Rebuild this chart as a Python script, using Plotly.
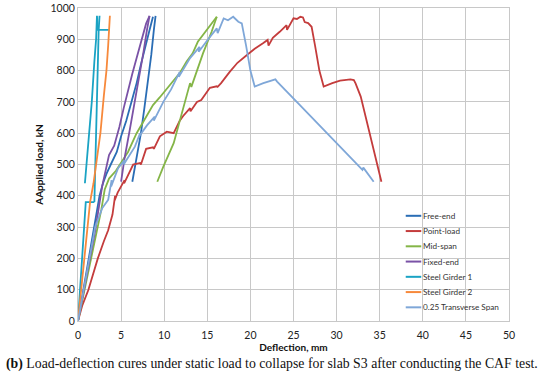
import plotly.graph_objects as go

# ---------------- data ----------------
free_x = [0, 0.8, 1.7, 2.5, 2.9, 3.3, 3.8, 4.5, 5.0, 5.6, 6.2, 6.8, 7.3, 7.8, 8.3, 8.7, None,
          6.3, 6.8, 7.3, 7.7, 8.1, 8.5, 8.8, 9.0]
free_y = [0, 130, 280, 400, 440, 470, 500, 540, 590, 640, 700, 760, 820, 880, 930, 972, None,
          445, 520, 600, 680, 760, 850, 930, 975]

point_x = [0, 0.5, 1.2, 2.3, 3.0, 3.5, 4.0, 4.3, 4.25, 4.6, 5.0, 5.4, 5.35, 5.8, 6.4, 7.2, 7.3, 7.9,
           8.7, 8.8, 9.5, 10.3, 11.0, 11.1, 11.8, 12.2, 13.0, 13.05, 13.8, 14.3, 15.3, 16.1, 16.2,
           16.6, 17.6, 18.5, 19.6, 20.5, 21.5, 22.0, 22.1, 22.6, 23.4, 24.2, 24.25, 25.0, 25.4,
           25.8, 26.1, 26.3, 26.7, 27.1, 27.5, 28.0, 28.5, 29.0, 29.5, 30.4, 31.0, 31.6, 32.0,
           32.2, 32.8, 33.5, 34.3, 35.2]
point_y = [0, 50, 99, 200, 255, 290, 340, 400, 385, 410, 430, 450, 440, 465, 500, 505, 500, 550,
           555, 550, 590, 605, 600, 600, 640, 655, 680, 670, 700, 706, 745, 750, 748,
           760, 796, 825, 850, 870, 888, 898, 880, 905, 924, 945, 930, 967, 965,
           972, 970, 955, 952, 940, 880, 800, 749, 755, 760, 768, 770, 772, 770,
           759, 717, 640, 550, 445]

mid_x = [0, 1.0, 2.0, 2.7, 3.1, 3.6, 4.4, 5.0, 5.8, 6.8, 7.8, 8.7, 9.5, 10.5, 11.8, 12.6, 13.3,
         13.9, 14.8, 15.7, 16.1, None,
         9.2, 9.9, 11.1, 11.9, 12.3, 13.0, 13.15, 13.6, 14.5, 15.5, 16.1]
mid_y = [0, 130, 270, 355, 420, 455, 480, 505, 540, 600, 650, 690, 715, 750, 792, 829, 855,
         892, 925, 961, 972, None,
         445, 493, 568, 650, 690, 760, 748, 786, 855, 924, 972]

fixed_x = [0, 1.0, 2.0, 2.8, 3.2, 3.6, 4.2, 4.8, 5.3, 5.8, 6.3, 6.8, 7.4, 7.9, 8.3, None,
           5.0, 5.4, 6.0, 6.6, 7.1, 7.6, 8.0, 8.3]
fixed_y = [0, 140, 290, 430, 480, 530, 560, 620, 680, 740, 790, 840, 900, 950, 975, None,
           445, 520, 610, 700, 780, 860, 930, 975]

sg1_x = [0, 0.4, 0.9, 1.9, None, 1.9, 2.0, 2.1, 2.2, 2.3, 2.4, 2.5, None,
         0.8, 1.2, 1.6, 1.9, 2.1, 2.2, 2.3, 3.7]
sg1_y = [0, 180, 380, 380, None, 380, 500, 620, 750, 850, 930, 975, None,
         440, 560, 700, 830, 900, 975, 930, 930]

sg2_x = [0, 0.7, 1.4, 1.8, 2.2, 2.6, 3.0, 3.3, 3.5, 3.7]
sg2_y = [0, 200, 380, 440, 520, 600, 720, 800, 880, 975]

trans_x = [0, 1.0, 2.0, 2.8, 3.5, 3.9, 3.85, 4.65, 5.4, 5.3, 6.0, 6.6, 7.2, 7.1, 8.0, 8.9, 8.8,
           9.9, 10.8, 11.8, 11.7, 12.4, 13.0, 14.1, 14.0, 15.1, 16.1, 16.2, 16.9, 17.4, 18.0,
           18.6, 19.0, 19.5, 20.0, 20.5, 21.5, 22.9, 23.1, 25.8, 28.0, 30.0, 32.0, 33.0, 33.1,
           34.3]
trans_y = [0, 150, 301, 360, 387, 450, 430, 488, 514, 500, 530, 557, 600, 590, 625, 653, 640,
           700, 740, 796, 780, 815, 840, 876, 860, 900, 935, 920, 967, 961, 972,
           956, 951, 880, 800, 749, 760, 772, 765, 688, 625, 568, 511, 483, 490,
           445]

series_names = ["Free-end", "Point-load", "Mid-span", "Fixed-end",
                "Steel Girder 1", "Steel Girder 2", "0.25 Transverse Span"]
series_colors = ["#2A6DB5", "#C43C3C", "#84B547", "#7A52A6", "#1AA3C4", "#F7893B", "#7FA7D8"]

x_ticks = [0, 5, 10, 15, 20, 25, 30, 35, 40, 45, 50]
y_ticks = [0, 100, 200, 300, 400, 500, 600, 700, 800, 900, 1000]

caption_bold = "(b)"
caption_rest = " Load-deflection cures under static load to collapse for slab S3 after conducting the CAF test."

# ---------------- figure ----------------
xs = [free_x, point_x, mid_x, fixed_x, sg1_x, sg2_x, trans_x]
ys = [free_y, point_y, mid_y, fixed_y, sg1_y, sg2_y, trans_y]

fig = go.Figure()
for name, col, x, y in zip(series_names, series_colors, xs, ys):
    fig.add_trace(go.Scatter(x=x, y=y, mode="lines", name=name, showlegend=False,
                             line=dict(color=col, width=1.8), connectgaps=False))

# compact legend (Excel style): short line sample + label
PLOT_L, PLOT_W, PLOT_B, PLOT_H = 78.3, 430.3, 321.0, 313.3
def px_to_paper(px, py):
    return (px - PLOT_L) / PLOT_W, (PLOT_B - py) / PLOT_H

for i, (name, col) in enumerate(zip(series_names, series_colors)):
    py = 215.7 + 15.27 * i
    x0, yy = px_to_paper(405.5, py)
    x1, _ = px_to_paper(421.0, py)
    fig.add_shape(type="line", xref="paper", yref="paper", x0=x0, x1=x1, y0=yy, y1=yy,
                  line=dict(color=col, width=2))
    fig.add_annotation(xref="paper", yref="paper", x=x1, y=yy, xanchor="left", yanchor="middle",
                       showarrow=False, text=name,
                       font=dict(family="Lato", size=8.2, color="#333"))

grid = "#C8C8C8"
tickfont = dict(family="Lato", size=10.5, color="#222")
fig.update_layout(
    width=550, height=378,
    margin=dict(l=78, r=41, t=8, b=57, autoexpand=False),
    paper_bgcolor="white", plot_bgcolor="white",
    showlegend=False,
    xaxis=dict(range=[0, 50], tickvals=x_ticks, showgrid=True, gridcolor=grid, gridwidth=1,
               zeroline=False, showline=True, linecolor=grid, mirror=True,
               tickfont=tickfont, ticks="", ticklabelstandoff=4,
               title=dict(text="<b>Deflection, mm</b>", font=dict(family="Lato", size=10, color="#111"),
                          standoff=2)),
    yaxis=dict(range=[0, 1000], tickvals=y_ticks, showgrid=True, gridcolor=grid, gridwidth=1,
               zeroline=False, showline=True, linecolor=grid, mirror=True,
               tickfont=tickfont, ticks="",
               title=dict(text="<b>AApplied load, kN</b>", font=dict(family="Lato", size=10, color="#111"),
                          standoff=5)),
)
fig.add_annotation(xref="paper", yref="paper", x=-0.172, y=-0.137, xanchor="left", yanchor="middle",
                   showarrow=False,
                   text="<b>" + caption_bold + "</b>" + caption_rest,
                   font=dict(family="Liberation Serif", size=13.8, color="#111"))
fig.write_html("out.html", config={"displayModeBar": False},
               post_script="document.body.style.margin='0';")
